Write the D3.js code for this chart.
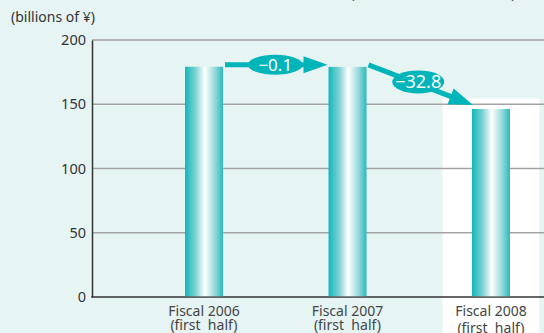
<!DOCTYPE html>
<html>
<head>
    <script src="https://d3js.org/d3.v7.min.js"></script>
    <style>
        body { margin: 0; background: #e6f4f4; }
        svg { display: block; font-family: "Noto Sans", sans-serif; }
    </style>
</head>
<body>
    <div id="chart"></div>
    <script>
        var categories = ["Fiscal 2006", "Fiscal 2007", "Fiscal 2008"];
        var subLabels = ["(first  half)", "(first  half)", "(first  half)"];
        var values = [179.2, 179.1, 146.3];
        var changes = [-0.1, -32.8];
        var yTicks = [0, 50, 100, 150, 200];

        var width = 544, height = 333;
        var teal = "#00b5b9";

        var svg = d3.select("#chart").append("svg")
            .attr("width", width)
            .attr("height", height);

        var defs = svg.append("defs");
        var grad = defs.append("linearGradient")
            .attr("id", "barGrad")
            .attr("x1", "0%").attr("x2", "100%")
            .attr("y1", "0%").attr("y2", "0%");
        [["0%", "#12b6b9"], ["28%", "#7ed2d4"], ["52%", "#ffffff"], ["76%", "#a2dddf"], ["100%", "#2bbabd"]]
            .forEach(function(s) {
                grad.append("stop").attr("offset", s[0]).attr("stop-color", s[1]);
            });

        var x = d3.scalePoint().domain(categories).range([204, 491]);
        var y = d3.scaleLinear().domain([0, 200]).range([297, 40]);
        var barWidth = 38;
        var step = x.step();

        // white highlight panel behind the latest period
        svg.append("rect")
            .attr("x", x(categories[2]) - step * 0.338)
            .attr("y", y(154.5))
            .attr("width", step * 0.675)
            .attr("height", height - y(154.5))
            .attr("fill", "#ffffff");

        // gridlines
        svg.selectAll(".grid")
            .data(yTicks.filter(function(d) { return d > 0; }))
            .enter().append("line")
            .attr("x1", 92).attr("x2", width)
            .attr("y1", function(d) { return y(d); })
            .attr("y2", function(d) { return y(d); })
            .attr("stroke", "#a3a3a3")
            .attr("stroke-width", 1.5);

        // y axis
        var yAxis = svg.append("g")
            .attr("transform", "translate(92,0)")
            .call(d3.axisLeft(y).tickValues(yTicks).tickSize(0).tickPadding(6));
        yAxis.select(".domain").attr("stroke", "#333").attr("stroke-width", 1.5);
        yAxis.selectAll("text")
            .attr("fill", "#333")
            .style("font-size", "14.5px")
            .style("font-family", "'Noto Sans', sans-serif");

        // baseline
        svg.append("line")
            .attr("x1", 91.25).attr("x2", width)
            .attr("y1", y(0)).attr("y2", y(0))
            .attr("stroke", "#333")
            .attr("stroke-width", 1.5);

        // bars
        svg.selectAll(".bar")
            .data(values)
            .enter().append("rect")
            .attr("x", function(d, i) { return x(categories[i]) - barWidth / 2; })
            .attr("y", function(d) { return y(d); })
            .attr("width", barWidth)
            .attr("height", function(d) { return y(0) - y(d) - 0.75; })
            .attr("fill", "url(#barGrad)");

        // x labels
        var labels = svg.selectAll(".xlab")
            .data(categories)
            .enter().append("text")
            .attr("text-anchor", "middle")
            .attr("fill", "#444")
            .style("font-size", "14px");
        labels.append("tspan")
            .attr("x", function(d) { return x(d); })
            .attr("y", 316)
            .text(function(d) { return d; });
        labels.append("tspan")
            .attr("x", function(d) { return x(d); })
            .attr("y", function(d, i) { return i === 2 ? 333 : 330; })
            .style("white-space", "pre")
            .attr("xml:space", "preserve")
            .text(function(d, i) { return subLabels[i]; });

        // change arrows
        changes.forEach(function(c, i) {
            var steep = i > 0;
            var x0 = x(categories[i]) + barWidth / 2 + 2;
            var y0 = y(values[i]) - 2;
            var x1 = x(categories[i + 1]) - barWidth / 2 + (steep ? 1 : -1);
            var y1 = y(values[i + 1]) - (steep ? 4 : 2);
            var len = Math.hypot(x1 - x0, y1 - y0);
            var ux = (x1 - x0) / len, uy = (y1 - y0) / len;
            var headLen = 24, headHalf = 8.5;
            var bx = x1 - ux * headLen, by = y1 - uy * headLen;

            svg.append("line")
                .attr("x1", x0).attr("y1", y0)
                .attr("x2", bx + ux * 2).attr("y2", by + uy * 2)
                .attr("stroke", teal)
                .attr("stroke-width", 5);
            svg.append("polygon")
                .attr("points", [
                    [x1, y1],
                    [bx - uy * headHalf, by + ux * headHalf],
                    [bx + uy * headHalf, by - ux * headHalf]
                ].map(function(p) { return p.join(","); }).join(" "))
                .attr("fill", teal);

            var mx = (x0 + x1) / 2 - (steep ? 2.5 : 1);
            var my = (y0 + y1) / 2 - (steep ? 3 : 0);
            var label = "\u2212" + Math.abs(c).toFixed(1);
            svg.append("ellipse")
                .attr("cx", mx).attr("cy", my)
                .attr("rx", steep ? 26 : 27.5).attr("ry", steep ? 11.5 : 10)
                .attr("fill", teal);
            svg.append("text")
                .attr("x", mx).attr("y", my + (steep ? 6.5 : 6))
                .attr("text-anchor", "middle")
                .attr("fill", "#fff")
                .style("font-size", steep ? "18px" : "17px")
                .text(label);
        });

        // unit label
        svg.append("text")
            .attr("x", 11).attr("y", 22)
            .attr("fill", "#333")
            .style("font-size", "14px")
            .text("(billions of \u00a5)");

        // cut-off caption at the top edge
        svg.append("text")
            .attr("x", 350).attr("y", -2.5)
            .attr("fill", "#555")
            .style("font-size", "14px")
            .attr("textLength", 166)
            .attr("lengthAdjust", "spacingAndGlyphs")
            .text("(Amount of decrease)");
    </script>
</body>
</html>
